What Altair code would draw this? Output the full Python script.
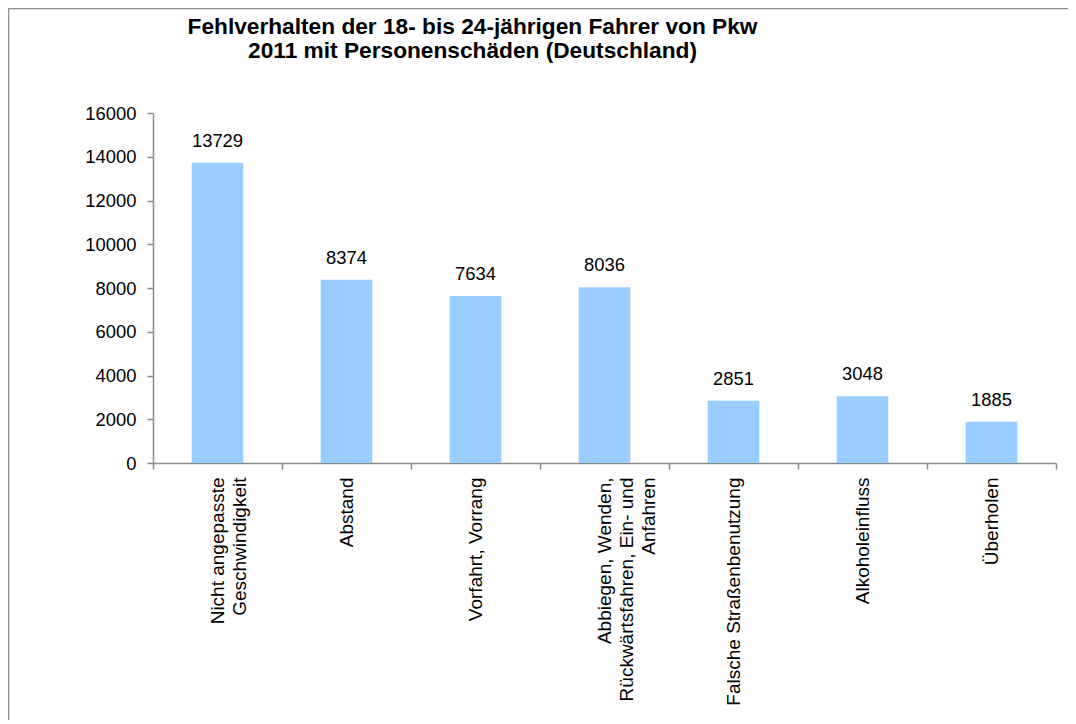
import altair as alt
import pandas as pd

# Data
categories = [
    "Nicht angepasste|Geschwindigkeit",
    "Abstand",
    "Vorfahrt, Vorrang",
    "Abbiegen, Wenden,|Rückwärtsfahren, Ein- und|Anfahren",
    "Falsche Straßenbenutzung",
    "Alkoholeinfluss",
    "Überholen",
]
values = [13729, 8374, 7634, 8036, 2851, 3048, 1885]
y_ticks = [0, 2000, 4000, 6000, 8000, 10000, 12000, 14000, 16000]
title_lines = [
    "Fehlverhalten der 18- bis 24-jährigen Fahrer von Pkw",
    "2011 mit Personenschäden (Deutschland)",
]

FONT = "Liberation Sans"
GREY = "#8a8a8a"

df = pd.DataFrame({"cat": categories, "value": values})

x_enc = alt.X(
    "cat:N",
    sort=None,
    scale=alt.Scale(paddingInner=0, paddingOuter=0),
    axis=alt.Axis(
        title=None,
        labelExpr="isValid(datum.value) ? split(datum.value, '|') : ''",
        labelAngle=270,
        labelAlign="right",
        labelBaseline="middle",
        labelFont=FONT,
        labelFontSize=19,
        labelLineHeight=22,
        labelColor="black",
        labelPadding=8,
        labelLimit=0,
        tickBand="extent",
        tickSize=6,
        tickColor=GREY,
        tickWidth=1.5,
        domainColor=GREY,
        domainWidth=1.5,
        grid=False,
    ),
)
y_enc = alt.Y(
    "value:Q",
    scale=alt.Scale(domain=[0, 16000], nice=False),
    axis=alt.Axis(
        title=None,
        values=y_ticks,
        format="d",
        grid=False,
        labelFont=FONT,
        labelFontSize=18.4,
        labelColor="black",
        labelPadding=11,
        tickSize=6,
        tickColor=GREY,
        tickWidth=1.5,
        domainColor=GREY,
        domainWidth=1.5,
    ),
)

bars = alt.Chart(df).mark_bar(color="#99CCFF", width=alt.RelativeBandSize(0.4)).encode(
    x=x_enc, y=y_enc
)
labels = alt.Chart(df).mark_text(
    dy=-16, baseline="alphabetic", font=FONT, fontSize=18.4, color="black"
).encode(x=x_enc, y=y_enc, text=alt.Text("value:Q", format="d"))

# outer frame of the chart (only top and left edges are visible in the reference)
frame_top = alt.Chart(alt.Data(values=[{}])).mark_rule(
    stroke=GREY, strokeWidth=1.5
).encode(x=alt.value(-144.5), x2=alt.value(915), y=alt.value(-104.5))
frame_left = alt.Chart(alt.Data(values=[{}])).mark_rule(
    stroke=GREY, strokeWidth=1.5
).encode(x=alt.value(-144.5), y=alt.value(-104.5), y2=alt.value(620))

chart = alt.layer(frame_top, frame_left, bars, labels).properties(
    width=903,
    height=350,
    background="white",
    autosize=alt.AutoSizeParams(type="none"),
    padding={"left": 145, "top": 105, "right": 12, "bottom": 257},
    title=alt.TitleParams(
        text=title_lines,
        font=FONT,
        fontSize=22.7,
        fontWeight="bold",
        color="black",
        anchor="middle",
        frame="group",
        baseline="alphabetic",
        lineHeight=24,
        offset=0,
        dx=-132,
        dy=73,
    ),
).configure_view(stroke="transparent", strokeWidth=0)

chart.save("out.html", embed_options={"renderer": "svg", "actions": False})
